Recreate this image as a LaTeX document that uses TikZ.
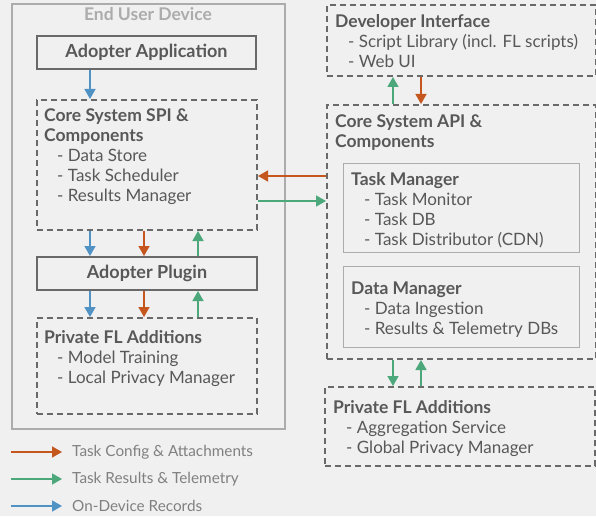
\documentclass[tikz,border=0pt]{standalone}
\usepackage{fontspec}
\setmainfont{Lato}
\usetikzlibrary{arrows.meta,positioning}
\definecolor{fond}{RGB}{240,240,240}
\definecolor{cadre}{RGB}{105,105,105}
\definecolor{clair}{RGB}{172,172,172}
\definecolor{texte}{RGB}{88,88,88}
\definecolor{config}{RGB}{196,86,30}
\definecolor{resultat}{RGB}{76,168,122}
\definecolor{releve}{RGB}{80,146,196}
\newcommand{\puce}{\hspace*{13pt}- }
\newcommand{\tete}[1]{\textbf{\fontsize{17.5}{20}\selectfont #1}}

\tikzset{
  plein/.style={draw=cadre,line width=2pt,anchor=north west,inner sep=0pt},
  tirets/.style={draw=cadre,line width=2pt,dash pattern=on 6pt off 4pt,anchor=north west,inner sep=0pt},
  interne/.style={draw=clair,line width=1.2pt,anchor=north west,inner sep=0pt},
  bloc/.style={anchor=north west,inner sep=0pt,align=left,text=texte,
    font=\fontsize{17}{20}\selectfont},
  titre/.style={text=texte,font=\fontsize{18}{20}\selectfont\bfseries},
  legende/.style={anchor=west,inner sep=0pt,text=gray,font=\fontsize{15.3}{18}\selectfont},
  fleche/.style={line width=1.6pt,-{Triangle[length=10pt,width=11pt]}},
  cfg/.style={fleche,config},
  res/.style={fleche,resultat},
  rec/.style={fleche,releve}
}

\begin{document}
\begin{tikzpicture}[x=1pt,y=-1pt]
  \fill[fond] (0,0) rectangle (596,516);
  \useasboundingbox (0,0) rectangle (596,516);

  % end user device
  \node[draw=clair,line width=2pt,anchor=north west,inner sep=0pt,
    minimum width=273pt,minimum height=425pt] (device) at (11,3) {};
  \node[text=clair,font=\fontsize{17.5}{18}\selectfont\bfseries] (devtitre) at (148,14) {End User Device};
  \node[plein,minimum width=219pt,minimum height=33pt,titre] (app) at (36,35) {Adopter Application};
  \node[tirets,minimum width=220pt,minimum height=130pt] (spi) at (36,99) {};
  \node[bloc] (spitxt) at (44,109) {\tete{Core System SPI \&}\\
    \tete{Components}\\ \puce Data Store\\ \puce Task Scheduler\\ \puce Results Manager};
  \node[plein,minimum width=220pt,minimum height=33pt,titre] (plugin) at (36,256) {Adopter Plugin};
  \node[tirets,minimum width=220pt,minimum height=96pt] (privg) at (36,317) {};
  \node[bloc] (privgtxt) at (44,330) {\tete{Private FL Additions}\\
    \puce Model Training\\ \puce Local Privacy Manager};

  % server side
  \node[tirets,minimum width=269pt,minimum height=71pt] (dev) at (326,4) {};
  \node[bloc] (devtxt) at (335,14) {\tete{Developer Interface}\\
    \puce Script Library (incl. FL scripts)\\ \puce Web UI};
  \node[tirets,minimum width=269pt,minimum height=254pt] (api) at (326,104) {};
  \node[bloc] (apitxt) at (335,115) {\tete{Core System API \&}\\
    \tete{Components}};
  \node[interne,minimum width=236pt,minimum height=89pt] (tache) at (343,163) {};
  \node[bloc] (tachetxt) at (351,172) {\tete{Task Manager}\\
    \puce Task Monitor\\ \puce Task DB\\ \puce Task Distributor (CDN)};
  \node[interne,minimum width=236pt,minimum height=81pt] (donnees) at (343,266) {};
  \node[bloc] (donneestxt) at (351,282) {\tete{Data Manager}\\
    \puce Data Ingestion\\ \puce Results \& Telemetry DBs};
  \node[tirets,minimum width=270pt,minimum height=79pt] (privd) at (324,386) {};
  \node[bloc] (privdtxt) at (333,400) {\tete{Private FL Additions}\\
    \puce Aggregation Service\\ \puce Global Privacy Manager};

  % columns and rows for the connectors
  \coordinate (c1) at (90,0);
  \coordinate (c2) at (144,0);
  \coordinate (c3) at (198,0);
  \coordinate (c4) at (393,0);
  \coordinate (c5) at (421,0);
  \coordinate (r1) at (0,176);
  \coordinate (r2) at (0,201);

  \draw[rec] (app.south -| c1) -- (spi.north -| c1);
  \draw[rec] (spi.south -| c1) -- (plugin.north -| c1);
  \draw[cfg] (spi.south -| c2) -- (plugin.north -| c2);
  \draw[res] (plugin.north -| c3) -- (spi.south -| c3);
  \draw[rec] (plugin.south -| c1) -- (privg.north -| c1);
  \draw[cfg] (plugin.south -| c2) -- (privg.north -| c2);
  \draw[res] (privg.north -| c3) -- (plugin.south -| c3);

  \draw[res] (api.north -| c4) -- (dev.south -| c4);
  \draw[cfg] (dev.south -| c5) -- (api.north -| c5);
  \draw[cfg] (api.west |- r1) -- (spi.east |- r1);
  \draw[res] (spi.east |- r2) -- (api.west |- r2);
  \draw[res] (api.south -| c4) -- (privd.north -| c4);
  \draw[res] (privd.north -| c5) -- (api.south -| c5);

  % legend
  \coordinate (l1) at (11,452);
  \coordinate (l2) at (11,479);
  \coordinate (l3) at (11,506);
  \node[legende] (t1) at (72,452) {Task Config \& Attachments};
  \node[legende] (t2) at (72,479) {Task Results \& Telemetry};
  \node[legende] (t3) at (72,506) {On-Device Records};
  \draw[cfg] (l1) -- ([xshift=-10pt]t1.west);
  \draw[res] (l2) -- ([xshift=-10pt]t2.west);
  \draw[rec] (l3) -- ([xshift=-10pt]t3.west);
\end{tikzpicture}
\end{document}
